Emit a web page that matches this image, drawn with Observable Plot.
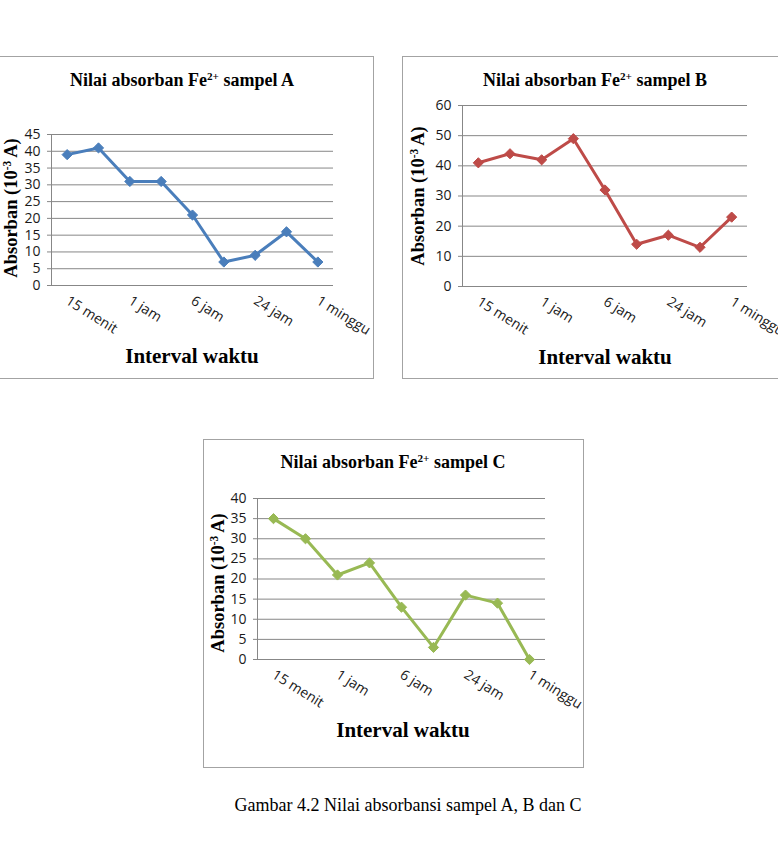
<!DOCTYPE html>
<html>
<head>
<meta charset="utf-8">
<script src="https://cdn.jsdelivr.net/npm/d3@7"></script>
<script src="https://cdn.jsdelivr.net/npm/@observablehq/plot@0.6"></script>
<style>
  html, body { margin: 0; padding: 0; background: #fff; }
  body { width: 778px; height: 842px; position: relative; overflow: hidden; }
  .panel { position: absolute; border: 1px solid #a3a3a3; box-sizing: border-box; background: #fff; }
  .txt { position: absolute; white-space: nowrap; transform: translate(-50%, -50%); font-family: "Liberation Serif", "Times New Roman", serif; color: #000; }
  .title { font-weight: bold; font-size: 18px; }
  .ylab { font-weight: bold; font-size: 18.5px; transform: translate(-50%, -50%) rotate(-90deg); }
  .xlab { font-weight: bold; font-size: 21px; }
  sup { font-size: 0.62em; vertical-align: 0; position: relative; top: -0.55em; }
  .cap { font-size: 18px; font-weight: normal; }
  .chart { position: absolute; }
</style>
</head>
<body>
<script>
// ---- data ----
const timeLabels = ["15 menit", "", "1 jam", "", "6 jam", "", "24 jam", "", "1 minggu"];
const sampleA = [39, 41, 31, 31, 21, 7, 9, 16, 7];
const sampleB = [41, 44, 42, 49, 32, 14, 17, 13, 23];
const sampleC = [35, 30, 21, 24, 13, 3, 16, 14, 0];
const yTicksA = [0, 5, 10, 15, 20, 25, 30, 35, 40, 45];
const yTicksB = [0, 10, 20, 30, 40, 50, 60];
const yTicksC = [0, 5, 10, 15, 20, 25, 30, 35, 40];
const titles = ["Nilai absorban Fe<sup>2+</sup> sampel A", "Nilai absorban Fe<sup>2+</sup> sampel B", "Nilai absorban Fe<sup>2+</sup> sampel C"];
const yTitle = "Absorban (10<sup>-3 </sup>A)";
const xTitle = "Interval waktu";
const caption = "Gambar 4.2 Nilai absorbansi sampel A, B dan C";
const colors = ["#4A7EBB", "#BE4B48", "#98B954"];

function addText(cls, html, x, y) {
  const d = document.createElement("div");
  d.className = "txt " + cls;
  d.innerHTML = html;
  d.style.left = x + "px";
  d.style.top = y + "px";
  document.body.appendChild(d);
}

function panel(cfg) {
  const p = document.createElement("div");
  p.className = "panel";
  p.style.left = cfg.box[0] + "px";
  p.style.top = cfg.box[1] + "px";
  p.style.width = (cfg.box[2] - cfg.box[0]) + "px";
  p.style.height = (cfg.box[3] - cfg.box[1]) + "px";
  document.body.appendChild(p);

  const [L, T, R, B] = cfg.plot;
  const sx = cfg.box[0], sy = cfg.box[1];
  const W = cfg.box[2] - sx, H = cfg.box[3] - sy;
  const idx = cfg.values.map((v, i) => i);
  const chart = Plot.plot({
    width: W,
    height: H,
    marginLeft: L - sx,
    marginRight: sx + W - R,
    marginTop: T - sy,
    marginBottom: sy + H - B,
    style: { fontFamily: "'Open Sans', sans-serif", fontSize: "14px", color: "#1a1a1a", background: "transparent", overflow: "visible" },
    x: { type: "linear", domain: [-0.5, cfg.values.length - 0.5], axis: null },
    y: { domain: [0, cfg.yTicks[cfg.yTicks.length - 1]], axis: null },
    marks: [
      Plot.ruleY(cfg.yTicks, { stroke: "#878787", strokeWidth: 1 }),
      Plot.ruleX([-0.5], { stroke: "#878787", strokeWidth: 1 }),
      Plot.axisY({ ticks: cfg.yTicks, tickSize: 4, tickPadding: 7, stroke: "#878787", fontSize: 14, tickFormat: d => String(d) }),
      Plot.axisX({ ticks: idx, tickFormat: i => timeLabels[i], tickSize: 0, tickPadding: 14, tickRotate: 32, textAnchor: "start", fontSize: 14 }),
      Plot.line(idx, { x: i => i, y: i => cfg.values[i], stroke: cfg.color, strokeWidth: 3, strokeLinejoin: "round" }),
      Plot.dot(idx, { x: i => i, y: i => cfg.values[i], symbol: "diamond2", r: 4.6, fill: cfg.color, stroke: cfg.color, strokeWidth: 1 })
    ]
  });
  chart.classList.add("chart");
  chart.style.left = sx + "px";
  chart.style.top = sy + "px";
  document.body.appendChild(chart);

  addText("title", cfg.title, cfg.titlePos[0], cfg.titlePos[1]);
  addText("ylab", yTitle, cfg.yPos[0], cfg.yPos[1]);
  addText("xlab", xTitle, cfg.xPos[0], cfg.xPos[1]);
}

panel({ box: [-2, 56, 374, 379], plot: [51, 134, 333, 285], values: sampleA, yTicks: yTicksA, color: colors[0], title: titles[0], titlePos: [182, 80], yPos: [11, 208], xPos: [192, 356] });
panel({ box: [402, 56, 790, 379], plot: [462, 105, 747, 286], values: sampleB, yTicks: yTicksB, color: colors[1], title: titles[1], titlePos: [595, 80], yPos: [418, 196], xPos: [605, 357] });
panel({ box: [203, 439, 584, 768], plot: [257, 498, 545, 659], values: sampleC, yTicks: yTicksC, color: colors[2], title: titles[2], titlePos: [393, 462], yPos: [218, 583], xPos: [403, 730] });

addText("cap", caption, 408, 805);
</script>
</body>
</html>
